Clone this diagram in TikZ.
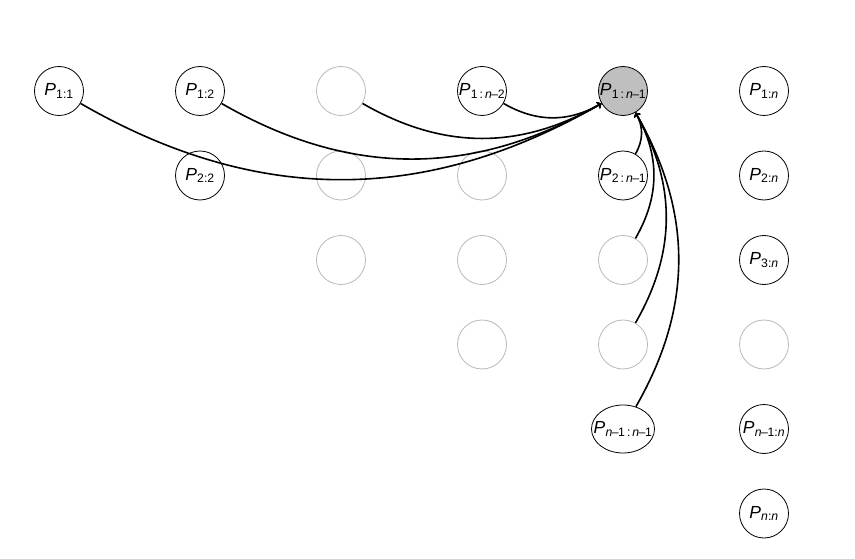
\documentclass[tikz,border=0pt]{standalone}
\usepackage{fontspec}
\setmainfont{Liberation Sans}
\usetikzlibrary{shapes.geometric}
% P with a subscript range, e.g. \Prange{1:\itn}
\newcommand\Prange[1]{\textit{P}\kern0.3pt\textsubscript{#1}}
\newcommand\itn{\textit{n}}
\newcommand\mn{\kern-0.6pt–\kern-0.4pt}
\begin{document}
\begin{tikzpicture}[x=1pt,y=1pt,
  state/.style={circle,draw,line width=0.8pt,minimum size=49pt,inner sep=-7pt,
                font=\fontsize{17.5}{17.5}\selectfont},
  blank/.style={circle,draw=black!28,line width=0.8pt,minimum size=49pt,inner sep=0pt},
  focus/.style={state,fill=black!25},
  wide/.style={ellipse,draw,line width=0.8pt,minimum width=63pt,minimum height=48pt,
               inner xsep=-8pt,inner ysep=0pt,font=\fontsize{17.5}{17.5}\selectfont},
  link/.style={->,line width=1.6pt,bend right=30}]
\useasboundingbox (0,0) rectangle (855,-559);

% column x: 59 + 141 i ; row y: 91 + 84.5 j
% row 1
\node[state] (p11)  at (59,-91)  {\Prange{1:1}};
\node[state] (p12)  at (200,-91) {\Prange{1:2}};
\node[blank] (g13)  at (341,-91) {};
\node[state] (p1m2) at (482,-91) {\Prange{1\,:\,\itn\mn2}};
\node[focus] (p1m1) at (623,-91) {\Prange{1\,:\,\itn\mn1}};
\node[state] (p1n)  at (764,-91) {\Prange{1:\itn}};
% row 2
\node[state] (p22)  at (200,-175.5) {\Prange{2:2}};
\node[blank] (g23)  at (341,-175.5) {};
\node[blank] (g24)  at (482,-175.5) {};
\node[state] (p2m1) at (623,-175.5) {\Prange{2\,:\,\itn\mn1}};
\node[state] (p2n)  at (764,-175.5) {\Prange{2:\itn}};
% row 3
\node[blank] (g33)  at (341,-260) {};
\node[blank] (g34)  at (482,-260) {};
\node[blank] (g35)  at (623,-260) {};
\node[state] (p3n)  at (764,-260) {\Prange{3:\itn}};
% row 4
\node[blank] (g44)  at (482,-344.5) {};
\node[blank] (g45)  at (623,-344.5) {};
\node[blank] (g46)  at (764,-344.5) {};
% row 5
\node[wide]  (pmm)  at (623,-429) {\Prange{\itn\mn1\,:\,\itn\mn1}};
\node[state] (pmn)  at (764,-429) {\Prange{\itn\mn1:\itn}};
% row 6
\node[state] (pnn)  at (764,-513.5) {\Prange{\itn:\itn}};

% dependencies of P_{1:n-1}
\draw[link] (p11)  to (p1m1);
\draw[link] (p12)  to (p1m1);
\draw[link] (g13)  to (p1m1);
\draw[link] (p1m2) to (p1m1);
\draw[link] (p2m1) to (p1m1);
\draw[link] (g35)  to (p1m1);
\draw[link] (g45)  to (p1m1);
\draw[link] (pmm)  to (p1m1);
\end{tikzpicture}
\end{document}
